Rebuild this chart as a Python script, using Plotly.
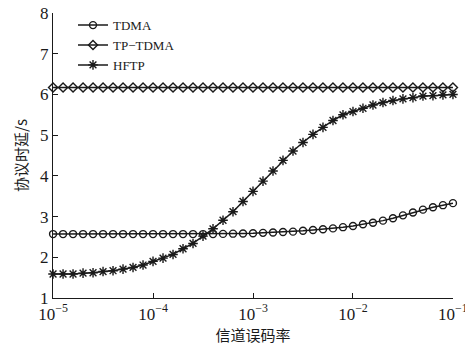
import numpy as np
import plotly.graph_objects as go

# Channel bit error rate: 41 points, 0.1-decade steps from 1e-5 to 1e-1
log_ber = [round(-5 + 0.1 * k, 1) for k in range(41)]
ber = [10 ** v for v in log_ber]

tdma = [2.57, 2.57, 2.57, 2.57, 2.57, 2.57, 2.57, 2.57, 2.57, 2.57,
        2.57, 2.57, 2.57, 2.57, 2.57, 2.57, 2.57, 2.575, 2.58, 2.585,
        2.59, 2.60, 2.61, 2.62, 2.63, 2.65, 2.67, 2.69, 2.71, 2.74,
        2.77, 2.81, 2.85, 2.90, 2.96, 3.03, 3.10, 3.17, 3.23, 3.28,
        3.33]
tp_tdma = [6.17] * 41
hftp = [1.59, 1.59, 1.59, 1.61, 1.62, 1.65, 1.67, 1.71, 1.75, 1.81,
        1.90, 1.98, 2.07, 2.21, 2.34, 2.52, 2.70, 2.91, 3.12, 3.37,
        3.62, 3.87, 4.12, 4.38, 4.61, 4.82, 5.02, 5.19, 5.36, 5.50,
        5.58, 5.66, 5.74, 5.80, 5.85, 5.89, 5.92, 5.96, 5.97, 5.99,
        6.00]

x_tickvals = [1e-5, 1e-4, 1e-3, 1e-2, 1e-1]
x_ticktext = ["10<sup>−5</sup>", "10<sup>−4</sup>", "10<sup>−3</sup>",
              "10<sup>−2</sup>", "10<sup>−1</sup>"]
y_tickvals = [1, 2, 3, 4, 5, 6, 7, 8]

ink = "#1a1a1a"
serif = "Liberation Serif, Times New Roman, serif"
cjk = "Noto Sans CJK SC, sans-serif"

fig = go.Figure()
series = [
    ("TDMA", tdma, "circle-open", 7),
    ("TP−TDMA", tp_tdma, "diamond-open", 7),
    ("HFTP", hftp, "asterisk-open", 8),
]
for name, ys, sym, sz in series:
    fig.add_trace(go.Scatter(
        x=ber, y=ys, name=name, mode="lines+markers",
        line=dict(color=ink, width=1.5),
        marker=dict(symbol=sym, size=sz, color=ink,
                    line=dict(color=ink, width=1.4)),
        cliponaxis=False,
    ))

fig.update_layout(
    width=465, height=351,
    margin=dict(l=53, r=12, t=13, b=53, autoexpand=False),
    paper_bgcolor="white", plot_bgcolor="white",
    font=dict(family=serif, size=16, color=ink),
    showlegend=True,
    legend=dict(x=0.05, y=1.01, xanchor="left", yanchor="top",
                bgcolor="rgba(0,0,0,0)", font=dict(family=serif, size=13),
                tracegroupgap=0, itemwidth=30),
)
fig.update_xaxes(
    type="log", range=[-5.0005, -0.9995], automargin=False,
    tickvals=x_tickvals, ticktext=x_ticktext,
    ticks="inside", ticklen=5, tickwidth=1.2, tickcolor=ink,
    showline=True, linecolor=ink, linewidth=1.2,
    showgrid=False, zeroline=False,
    ticklabeloverflow="allow",
    tickfont=dict(family=serif, size=17),
    title=dict(text="信道误码率", font=dict(family=cjk, size=15), standoff=6),
)
fig.update_yaxes(
    range=[1, 8], tickvals=y_tickvals, automargin=False,
    ticks="inside", ticklen=5, tickwidth=1.2, tickcolor=ink,
    showline=True, linecolor=ink, linewidth=1.2,
    showgrid=False, zeroline=False,
    tickfont=dict(family=serif, size=17),
    title=dict(text="协议时延/s", font=dict(family=cjk, size=15), standoff=8),
)

fig.write_html("out.html")
